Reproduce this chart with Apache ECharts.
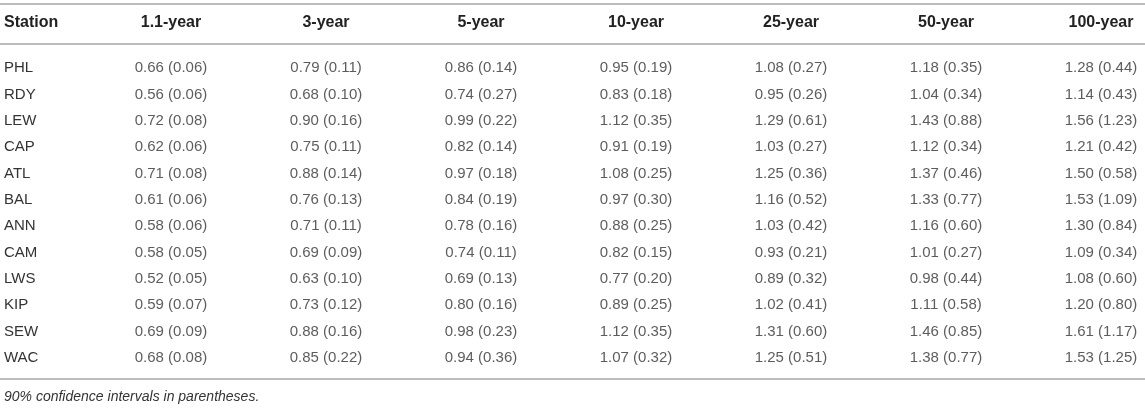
<!DOCTYPE html>
<html>
<head>
<meta charset="utf-8">
<script src="https://cdn.jsdelivr.net/npm/echarts@6/dist/echarts.min.js"></script>
<style>
html,body{margin:0;padding:0;background:#fff;}
#c{width:1145px;height:408px;}
</style>
</head>
<body>
<div id="c"></div>
<script>
const stations = ['PHL','RDY','LEW','CAP','ATL','BAL','ANN','CAM','LWS','KIP','SEW','WAC'];
const periods = ['1.1-year','3-year','5-year','10-year','25-year','50-year','100-year'];

const est_1_1 = [0.66,0.56,0.72,0.62,0.71,0.61,0.58,0.58,0.52,0.59,0.69,0.68];
const ci_1_1  = [0.06,0.06,0.08,0.06,0.08,0.06,0.06,0.05,0.05,0.07,0.09,0.08];
const est_3   = [0.79,0.68,0.90,0.75,0.88,0.76,0.71,0.69,0.63,0.73,0.88,0.85];
const ci_3    = [0.11,0.10,0.16,0.11,0.14,0.13,0.11,0.09,0.10,0.12,0.16,0.22];
const est_5   = [0.86,0.74,0.99,0.82,0.97,0.84,0.78,0.74,0.69,0.80,0.98,0.94];
const ci_5    = [0.14,0.27,0.22,0.14,0.18,0.19,0.16,0.11,0.13,0.16,0.23,0.36];
const est_10  = [0.95,0.83,1.12,0.91,1.08,0.97,0.88,0.82,0.77,0.89,1.12,1.07];
const ci_10   = [0.19,0.18,0.35,0.19,0.25,0.30,0.25,0.15,0.20,0.25,0.35,0.32];
const est_25  = [1.08,0.95,1.29,1.03,1.25,1.16,1.03,0.93,0.89,1.02,1.31,1.25];
const ci_25   = [0.27,0.26,0.61,0.27,0.36,0.52,0.42,0.21,0.32,0.41,0.60,0.51];
const est_50  = [1.18,1.04,1.43,1.12,1.37,1.33,1.16,1.01,0.98,1.11,1.46,1.38];
const ci_50   = [0.35,0.34,0.88,0.34,0.46,0.77,0.60,0.27,0.44,0.58,0.85,0.77];
const est_100 = [1.28,1.14,1.56,1.21,1.50,1.53,1.30,1.09,1.08,1.20,1.61,1.53];
const ci_100  = [0.44,0.43,1.23,0.42,0.58,1.09,0.84,0.34,0.60,0.80,1.17,1.25];

const estimates = [est_1_1, est_3, est_5, est_10, est_25, est_50, est_100];
const intervals = [ci_1_1, ci_3, ci_5, ci_10, ci_25, ci_50, ci_100];

const cells = [];
estimates.forEach((col, ci) => {
  col.forEach((v, ri) => {
    cells.push([ci, ri, v, intervals[ci][ri]]);
  });
});

const FONT = '"Liberation Sans", Arial, Helvetica, sans-serif';
const TXT = '#333333';
const RULE = '#bdbdbd';

const chart = echarts.init(document.getElementById('c'), null, {renderer: 'canvas'});
chart.setOption({
  backgroundColor: '#ffffff',
  animation: false,
  grid: {left: 171, right: 44, top: 68, bottom: 50},
  xAxis: {
    type: 'category',
    data: periods,
    position: 'top',
    boundaryGap: false,
    axisLine: {show: false},
    axisTick: {show: false},
    splitLine: {show: false},
    axisLabel: {
      interval: 0,
      margin: 45,
      verticalAlign: 'middle',
      color: '#222222',
      fontFamily: FONT,
      fontWeight: 'bold',
      fontSize: 16
    }
  },
  yAxis: {
    type: 'category',
    data: stations,
    inverse: true,
    boundaryGap: false,
    axisLine: {show: false},
    axisTick: {show: false},
    splitLine: {show: false},
    axisLabel: {
      interval: 0,
      align: 'left',
      margin: 167,
      color: TXT,
      fontFamily: FONT,
      fontSize: 15
    }
  },
  series: [{
    type: 'scatter',
    data: cells,
    symbolSize: 1,
    itemStyle: {color: 'rgba(255,255,255,0)'},
    silent: true,
    label: {
      show: true,
      position: 'inside',
      color: TXT,
      fontFamily: FONT,
      fontSize: 15,
      formatter: p => p.value[2].toFixed(2) + ' (' + p.value[3].toFixed(2) + ')'
    }
  }],
  graphic: [
    {type: 'line', shape: {x1: 0, y1: 4, x2: 1145, y2: 4}, style: {stroke: RULE, lineWidth: 2}},
    {type: 'line', shape: {x1: 0, y1: 44, x2: 1145, y2: 44}, style: {stroke: RULE, lineWidth: 2}},
    {type: 'line', shape: {x1: 0, y1: 379, x2: 1145, y2: 379}, style: {stroke: RULE, lineWidth: 2}},
    {type: 'text', left: 4, top: 15, style: {text: 'Station', fill: '#222222', font: 'bold 16px ' + FONT}},
    {type: 'text', left: 4, top: 390, style: {text: '90% confidence intervals in parentheses.', fill: TXT, font: 'italic 14px ' + FONT}}
  ]
});
</script>
</body>
</html>
